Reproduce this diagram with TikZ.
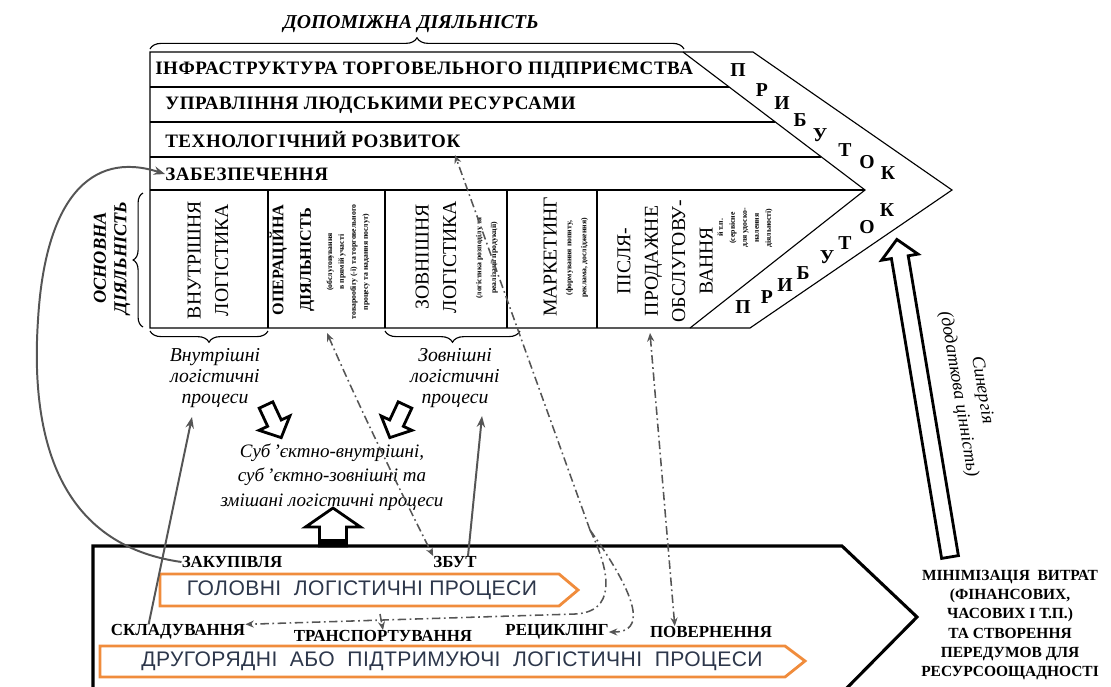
\documentclass[tikz,border=0pt]{standalone}
\usepackage{fontspec}
\setmainfont{Liberation Serif}
\setsansfont{Liberation Sans}
\usetikzlibrary{arrows.meta}
\usetikzlibrary{calc}
\usetikzlibrary{decorations.pathreplacing}

\definecolor{bannerorange}{RGB}{240,140,60}
\definecolor{bannertext}{RGB}{45,55,75}
\definecolor{linkgray}{RGB}{85,85,85}

\tikzset{
  frame/.style={draw, line width=0.8pt},
  rowtext/.style={anchor=west, inner sep=0pt, font=\fontsize{13.5}{14}\selectfont\bfseries\addfontfeatures{LetterSpace=3}},
  coltext/.style={rotate=90, align=center, inner sep=0pt, font=\fontsize{14}{19.5}\selectfont},
  colnote/.style={rotate=90, align=center, inner sep=0pt, font=\fontsize{5.5}{8.5}\selectfont\bfseries},
  profit/.style={inner sep=0pt, font=\fontsize{14}{14}\selectfont\bfseries},
  itlabel/.style={align=center, inner sep=0pt, font=\fontsize{14}{15}\selectfont\itshape},
  headlabel/.style={align=center, inner sep=0pt, font=\fontsize{14}{15}\selectfont\bfseries\itshape},
  proclabel/.style={inner sep=0pt, font=\fontsize{12}{13}\selectfont\bfseries},
  banner/.style={draw=bannerorange, line width=2pt, fill=white, line join=miter},
  bannerlabel/.style={inner sep=0pt, text=bannertext, font=\sffamily\fontsize{15}{15}\selectfont\addfontfeatures{LetterSpace=2}},
  dashdot/.style={draw=linkgray, line width=1.1pt,
    dash pattern=on 6pt off 2.5pt on 1.2pt off 2.5pt},
  solidlink/.style={draw=linkgray, line width=1.4pt, -{Stealth[length=8pt,width=6pt]}},
  blockarrow/.style={draw, line width=2pt, fill=white, line join=miter},
  bracemark/.style={draw, line width=0.8pt, decorate, decoration={brace, amplitude=#1}},
  bracemark/.default=7pt,
  tip/.style={-{Stealth[length=6pt,width=5pt]}},
  tips/.style={{Stealth[length=6pt,width=5pt]}-{Stealth[length=6pt,width=5pt]}}
}

% block arrow: x, y, angle, length, shaft, head, head length
\newcommand{\blockarr}[7]{%
  \begin{scope}[shift={(#1,#2)}, rotate=#3]
    \draw[blockarrow] (0,{-#5/2}) -- ({#4-#7},{-#5/2}) -- ({#4-#7},{-#6/2})
      -- (#4,0) -- ({#4-#7},{#6/2}) -- ({#4-#7},{#5/2}) -- (0,{#5/2}) -- cycle;
  \end{scope}}

\begin{document}
\begin{tikzpicture}[x=0.025cm, y=-0.025cm]
\clip (0,0) rectangle (1111,686);

% value chain outline
\draw[frame] (150,52) -- (753,52) -- (952,190) -- (750,328) -- (150,328) -- cycle;
\draw[frame] (683,52) -- (865,190) -- (690,328);
\draw[frame] (150,87) -- (729,87);
\draw[frame] (150,122) -- (775,122);
\draw[frame] (150,157) -- (821,157);
\draw[frame] (150,190) -- (865,190);
\foreach \cx in {268,385,507,597}
  \draw[frame] (\cx,190) -- (\cx,328);

% braces
\draw[bracemark=8pt] (150,49) -- (684,49);
\draw (411,24) node[headlabel] (support) {ДОПОМІЖНА ДІЯЛЬНІСТЬ};
\draw[bracemark=7pt] (143,327) -- (143,193);
\draw (112,258) node[headlabel, rotate=90, font=\fontsize{13}{14.5}\selectfont\bfseries\itshape] (primary) {ОСНОВНА\\ДІЯЛЬНІСТЬ};
\draw[bracemark=8pt] (268,331) -- (150,331);
\draw[bracemark=8pt] (520,331) -- (385,331);

% support activities
\draw (155,70) node[rowtext] (infra) {ІНФРАСТРУКТУРА ТОРГОВЕЛЬНОГО ПІДПРИЄМСТВА};
\draw (165,105) node[rowtext] (hr) {УПРАВЛІННЯ ЛЮДСЬКИМИ РЕСУРСАМИ};
\draw (165,140) node[rowtext] (tech) {ТЕХНОЛОГІЧНИЙ РОЗВИТОК};
\draw (165,174) node[rowtext] (supply) {ЗАБЕЗПЕЧЕННЯ};

% primary activities
\draw (208,260) node[coltext] (inlog) {ВНУТРІШНЯ\\ЛОГІСТИКА};
\draw (292,260) node[coltext, font=\fontsize{11.5}{19.5}\selectfont\bfseries] (ops) {ОПЕРАЦІЙНА\\ДІЯЛЬНІСТЬ};
\draw (348,262) node[colnote] (opsnote) {(обслуговування\\в прямій участі\\товарообігу (-ї) та торговельного\\процесу та надання послуг)};
\draw (436,257) node[coltext] (outlog) {ЗОВНІШНЯ\\ЛОГІСТИКА};
\draw (487,258) node[colnote, font=\fontsize{5.5}{10.5}\selectfont\bfseries] (outnote) {(логістика розподілу та\\реалізації продукції)};
\draw (550,257) node[coltext] (mkt) {МАРКЕТИНГ};
\draw (577,258) node[colnote, font=\fontsize{5.5}{10.5}\selectfont\bfseries] (mktnote) {(формування попиту,\\реклама, дослідження)};
\draw (665,261) node[coltext] (serv) {ПІСЛЯ-\\ПРОДАЖНЕ\\ОБСЛУГОВУ-\\ВАННЯ};
\draw (745,228) node[colnote] (servnote) {й т.п.\\(сервісне\\для удоско-\\налення\\діяльності)};

% profit
\foreach \ch/\px/\py [count=\k] in {П/738/70,Р/762/90,И/782/103,Б/800/120,У/820/135,Т/845/150,О/867/162,К/888/173}
  \draw (\px,\py) node[profit] (pu\k) {\ch};
\foreach \ch/\px/\py [count=\k] in {П/743/307,Р/767/297,И/785/285,Б/803/273,У/827/257,Т/845/243,О/867/227,К/887/210}
  \draw (\px,\py) node[profit] (pl\k) {\ch};

% process labels
\draw (215,378) node[itlabel] (inlab) {Внутрішні\\логістичні\\процеси};
\draw (455,378) node[itlabel] (outlab) {Зовнішні\\логістичні\\процеси};
\draw (332,477) node[itlabel, font=\fontsize{13.5}{17.5}\selectfont\itshape] (mixed) {Суб\,’єктно-внутрішні,\\суб\,’єктно-зовнішні та\\змішані логістичні процеси};

\blockarr{266}{405}{-65}{36}{15}{34}{16}
\blockarr{405}{405}{-115}{36}{15}{34}{16}
\blockarr{333}{546}{90}{38}{27}{55}{19}
\fill (320,539) rectangle (346,546);

% logistics box
\draw[line width=2.2pt] (93,700) -- (93,546) -- (842,546) -- (917,617) -- (835,700);
\draw[banner] (160,574) -- (559,574) -- (578,590) -- (559,606) -- (160,606) -- cycle;
\draw (362,590) node[bannerlabel] (mainproc) {ГОЛОВНІ\ \ ЛОГІСТИЧНІ ПРОЦЕСИ};
\draw[banner] (100,646) -- (785,646) -- (805,661) -- (785,677) -- (100,677) -- cycle;
\draw (452,661) node[bannerlabel] (secproc) {ДРУГОРЯДНІ\ \ АБО\ \ ПІДТРИМУЮЧІ\ \ ЛОГІСТИЧНІ\ \ ПРОЦЕСИ};

\draw (232,562) node[proclabel] (purch) {ЗАКУПІВЛЯ};
\draw (455,562) node[proclabel] (sales) {ЗБУТ};
\draw (178,632) node[proclabel] (stor) {СКЛАДУВАННЯ};
\draw (383,636) node[proclabel] (transp) {ТРАНСПОРТУВАННЯ};
\draw (557,632) node[proclabel] (recyc) {РЕЦИКЛІНГ};
\draw (711,632) node[proclabel] (ret) {ПОВЕРНЕННЯ};

% result
\draw (1010,625) node[align=center, inner sep=0pt, font=\fontsize{11}{13.6}\selectfont\bfseries] (costs) {МІНІМІЗАЦІЯ\ \ ВИТРАТ\\(ФІНАНСОВИХ,\\ЧАСОВИХ І Т.П.)\\ТА СТВОРЕННЯ\\ПЕРЕДУМОВ ДЛЯ\\РЕСУРСООЩАДНОСТІ};
\blockarr{950}{557}{99.5}{322}{17}{37}{18}
\draw (970,392) node[itlabel, rotate=-80.5, font=\fontsize{13}{17}\selectfont\itshape] (syn) {Синергія\\(додаткова цінність)};

% connectors
\coordinate (techin) at (455,155);
\coordinate (opsfoot) at (327,333);
\coordinate (servfoot) at (650,333);
\coordinate (fork) at (590,530);
\coordinate (transdrop) at (380,614);
\coordinate (inlabfoot) at (192,417);
\coordinate (outlabfoot) at (482,416);

\draw[solidlink] (purch.west) .. controls (60,545) and (30,440) .. (38,320)
  .. controls (45,200) and (90,150) .. (supply.west);
\draw[solidlink] ($(stor.north west)+(38,0)$) -- (inlabfoot);
\draw[solidlink] ($(sales.north)+(13,0)$) -- (outlabfoot);

\draw[dashdot, tips] (opsfoot) .. controls (365,420) and (405,500) .. (sales.north west);
\draw[dashdot, tips] (servfoot) -- ($(ret.north west)+(25,0)$);
\draw[dashdot, tip] (fork) -- (techin);
\draw[dashdot, tip] (fork) .. controls (640,600) and (645,632) .. (recyc.east);
\draw[dashdot, tip] (fork) .. controls (612,575) and (615,612) .. (575,614) -- (stor.north east);
\draw[dashdot, tip] (transdrop) -- (transp.north);
\end{tikzpicture}
\end{document}
